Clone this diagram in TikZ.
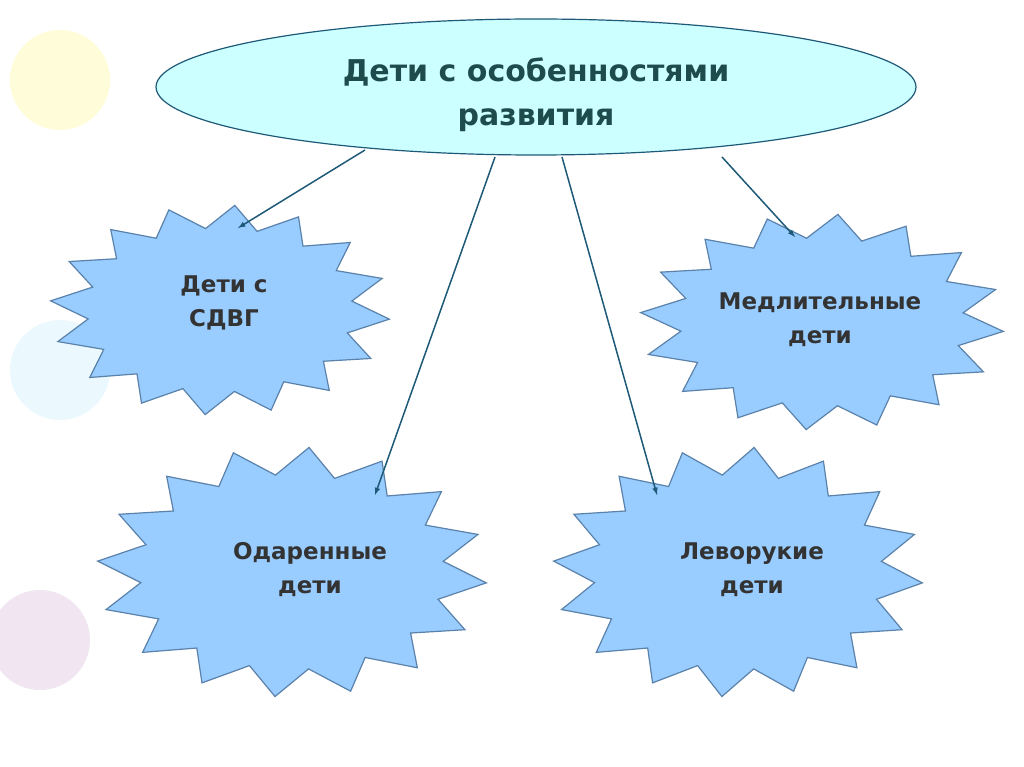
\documentclass[tikz,border=0pt]{standalone}
\usepackage{fontspec}
\setmainfont{DejaVu Sans}
\usetikzlibrary{shapes.geometric}
\definecolor{ellf}{RGB}{204,255,255}
\definecolor{starf}{RGB}{153,204,255}
\definecolor{stard}{RGB}{90,130,170}
\definecolor{titc}{RGB}{30,75,75}
\definecolor{arr}{RGB}{30,90,120}
\newcommand{\mystar}[4]{\draw[starbox] plot[samples=33,domain=0:32] ({#1+#3*(1-0.22*mod(\x,2))*cos(\x*11.25+5)},{#2+#4*(1-0.22*mod(\x,2))*sin(\x*11.25+5)}) -- cycle;}
\begin{document}
\begin{tikzpicture}[x=1pt,y=-1pt,
  starbox/.style={fill=starf,draw=stard,line width=1.2pt,line join=miter},
  lbl/.style={font=\bfseries\fontsize{23}{34}\selectfont,text=black!80,align=center},
  arrw/.style={draw=arr,line width=1.5pt,-latex}]
\useasboundingbox (0,0) rectangle (1024,767);
\fill[yellow!15] (60,80) circle (50);
\fill[cyan!8] (60,370) circle (50);
\fill[violet!10] (40,640) circle (50);
\node[ellipse,fill=ellf,draw=arr,line width=1.2pt,minimum width=760,minimum height=136,inner sep=0] (top) at (536,87) {};
\node[font=\bfseries\fontsize{30}{44}\selectfont,text=titc,align=center] (title) at (536,95) {Дети с особенностями\\развития};
\mystar{220}{310}{170}{105}
\mystar{822}{322}{182}{108}
\mystar{292}{572}{195}{125}
\mystar{738}{572}{185}{125}
\node[lbl] (s1) at (224,303) {Дети с\\СДВГ};
\node[lbl] (s2) at (820,320) {Медлительные\\дети};
\node[lbl] (s3) at (310,570) {Одаренные\\дети};
\node[lbl] (s4) at (752,570) {Леворукие\\дети};
\coordinate (a1) at (365,150); \coordinate (b1) at (238,228);
\coordinate (a2) at (495,157); \coordinate (b2) at (375,495);
\coordinate (a3) at (562,157); \coordinate (b3) at (657,495);
\coordinate (a4) at (722,157); \coordinate (b4) at (795,237);
\draw[arrw] (a1) -- (b1);
\draw[arrw] (a2) -- (b2);
\draw[arrw] (a3) -- (b3);
\draw[arrw] (a4) -- (b4);
\end{tikzpicture}
\end{document}
